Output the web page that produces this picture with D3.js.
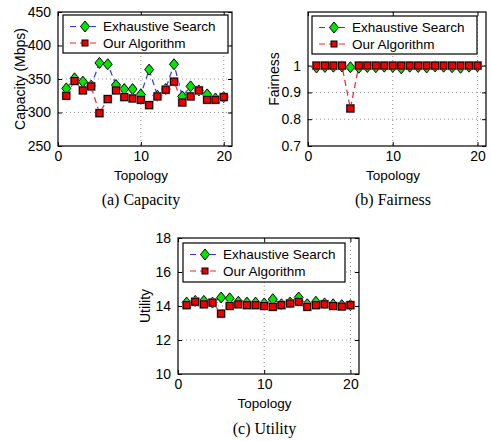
<!DOCTYPE html>
<html>
<head>
<meta charset="utf-8">
<script src="https://cdn.jsdelivr.net/npm/d3@7"></script>
<style>
body { margin: 0; background: #fff; }
svg text { font-family: "Liberation Sans", Arial, sans-serif; }
.caption { font-family: "Liberation Serif", "Times New Roman", serif; }
</style>
</head>
<body>
<svg width="491" height="441"></svg>
<script>
var topology = d3.range(1, 21);

// capacity (Mbps)
var capExhaustive = [336, 351, 346, 340, 374, 372, 341, 335, 335, 327, 364, 325, 335, 372, 324, 339, 333, 327, 321, 323];
var capOurs = [325, 347, 333, 339, 299, 320, 333, 323, 321, 319, 311, 324, 334, 346, 315, 324, 333, 319, 319, 323];

// fairness
var fairExhaustive = [0.993, 0.995, 0.996, 0.997, 0.994, 0.992, 0.995, 0.994, 0.996, 0.995, 0.99, 0.996, 0.995, 0.993, 0.997, 0.996, 0.994, 0.992, 0.996, 0.997];
var fairOurs = [1, 1, 1, 1, 0.84, 1, 1, 1, 1, 1, 1, 1, 1, 1, 1, 1, 1, 1, 1, 1];

// utility
var utilExhaustive = [14.2, 14.3, 14.3, 14.2, 14.5, 14.45, 14.25, 14.2, 14.2, 14.15, 14.4, 14.1, 14.2, 14.5, 14.1, 14.25, 14.15, 14.1, 14.05, 14.05];
var utilOurs = [14.05, 14.25, 14.1, 14.2, 13.55, 14.0, 14.1, 14.05, 14.05, 14.0, 13.95, 14.05, 14.15, 14.25, 13.95, 14.05, 14.1, 14.0, 13.97, 14.05];

var xTicks = [0, 10, 20];
var seriesNames = ["Exhaustive Search", "Our Algorithm"];

var svg = d3.select("svg");

var panels = [
    {box: [58, 12, 232, 146], yDomain: [250, 450], yTicks: [250, 300, 350, 400, 450], yFmt: d3.format("d"),
     ylabel: "Capacity (Mbps)", ylabelX: 20, caption: "(a)  Capacity", capY: 205,
     legend: [63, 15, 228, 53], a: capExhaustive, b: capOurs},
    {box: [308, 12, 486, 146], yDomain: [0.7, 1.2], yTicks: [0.7, 0.8, 0.9, 1], yFmt: function (d) { return d === 1 ? "1" : d3.format(".1f")(d); },
     ylabel: "Fairness", ylabelX: 274, caption: "(b)  Fairness", capY: 205,
     legend: [312, 16, 477, 54], a: fairExhaustive, b: fairOurs},
    {box: [178, 238, 359, 374], yDomain: [10, 18], yTicks: [10, 12, 14, 16, 18], yFmt: d3.format("d"),
     ylabel: "Utility", ylabelX: 145, caption: "(c)  Utility", capY: 434,
     legend: [183, 243, 345, 282], a: utilExhaustive, b: utilOurs}
];

function diamond(g, x, y) {
    g.append("path")
        .attr("d", "M" + x + "," + (y - 5.5) + "L" + (x + 4.5) + "," + y + "L" + x + "," + (y + 5.5) + "L" + (x - 4.5) + "," + y + "Z")
        .attr("fill", "#00e600").attr("stroke", "#000").attr("stroke-width", 1);
}
function square(g, x, y) {
    g.append("rect").attr("x", x - 4.5).attr("y", y - 4.5).attr("width", 9).attr("height", 9)
        .attr("fill", "#9a9a9a");
    g.append("rect").attr("x", x - 3.5).attr("y", y - 3.5).attr("width", 7).attr("height", 7)
        .attr("fill", "#ee0000").attr("stroke", "#000").attr("stroke-width", 1);
}

panels.forEach(function (p) {
    var x = d3.scaleLinear().domain([0, 21]).range([p.box[0], p.box[2]]);
    var y = d3.scaleLinear().domain(p.yDomain).range([p.box[3], p.box[1]]);
    var g = svg.append("g");

    // grid
    xTicks.forEach(function (t) {
        if (t === 0) return;
        g.append("line").attr("x1", x(t)).attr("x2", x(t)).attr("y1", p.box[1]).attr("y2", p.box[3])
            .attr("stroke", "#777").attr("stroke-width", 0.8).attr("stroke-dasharray", "1,3");
    });
    p.yTicks.forEach(function (t) {
        if (t === p.yDomain[0] || t === p.yDomain[1]) return;
        g.append("line").attr("x1", p.box[0]).attr("x2", p.box[2]).attr("y1", y(t)).attr("y2", y(t))
            .attr("stroke", "#777").attr("stroke-width", 0.8).attr("stroke-dasharray", "1,3");
    });

    // lines
    var line = d3.line().x(function (d, i) { return x(topology[i]); }).y(function (d) { return y(d); });
    g.append("path").datum(p.a).attr("d", line).attr("fill", "none")
        .attr("stroke", "#3333ff").attr("stroke-width", 1.2).attr("stroke-dasharray", "6,4");
    g.append("path").datum(p.b).attr("d", line).attr("fill", "none")
        .attr("stroke", "#ff2020").attr("stroke-width", 1.2).attr("stroke-dasharray", "6,4");

    // markers
    p.a.forEach(function (d, i) { diamond(g, x(topology[i]), y(d)); });
    p.b.forEach(function (d, i) { square(g, x(topology[i]), y(d)); });

    // axes (inward ticks, box)
    var xAxis = d3.axisBottom(x).tickValues(xTicks).tickSizeInner(-4).tickSizeOuter(0).tickPadding(5);
    var yAxis = d3.axisLeft(y).tickValues(p.yTicks).tickFormat(p.yFmt).tickSizeInner(-4).tickSizeOuter(0).tickPadding(7);
    var xa = g.append("g").attr("transform", "translate(0," + p.box[3] + ")").call(xAxis);
    var ya = g.append("g").attr("transform", "translate(" + p.box[0] + ",0)").call(yAxis);
    g.append("g").attr("transform", "translate(0," + p.box[1] + ")")
        .call(d3.axisTop(x).tickValues(xTicks).tickSizeInner(-4).tickSizeOuter(0).tickFormat(""));
    g.append("g").attr("transform", "translate(" + p.box[2] + ",0)")
        .call(d3.axisRight(y).tickValues(p.yTicks).tickSizeInner(-4).tickSizeOuter(0).tickFormat(""));
    g.selectAll(".domain").remove();
    g.selectAll(".tick line").attr("stroke", "#000");
    [xa, ya].forEach(function (a) {
        a.selectAll("text").attr("font-size", 14).attr("fill", "#000")
            .style("font-family", "'Liberation Sans', Arial, sans-serif");
    });
    g.append("rect").attr("x", p.box[0]).attr("y", p.box[1])
        .attr("width", p.box[2] - p.box[0]).attr("height", p.box[3] - p.box[1])
        .attr("fill", "none").attr("stroke", "#000").attr("stroke-width", 1.2);

    // labels
    var cx = (p.box[0] + p.box[2]) / 2 - 4;
    g.append("text").attr("x", cx).attr("y", p.box[3] + 34).attr("text-anchor", "middle")
        .attr("font-size", 13.5).text("Topology");
    g.append("text").attr("transform", "translate(" + p.ylabelX + "," + ((p.box[1] + p.box[3]) / 2) + ") rotate(-90)")
        .attr("text-anchor", "middle").attr("dy", "0.35em").attr("font-size", 14).text(p.ylabel);
    g.append("text").attr("class", "caption").attr("x", cx).attr("y", p.capY)
        .attr("text-anchor", "middle").attr("font-size", 16).text(p.caption);

    // legend
    var L = p.legend;
    g.append("rect").attr("x", L[0]).attr("y", L[1]).attr("width", L[2] - L[0]).attr("height", L[3] - L[1])
        .attr("fill", "#fff").attr("stroke", "#000").attr("stroke-width", 1.2);
    var rowY = [L[1] + 11.5, L[1] + 28];
    var colors = ["#3333ff", "#ff2020"];
    seriesNames.forEach(function (name, i) {
        g.append("line").attr("x1", L[0] + 7).attr("x2", L[0] + 37).attr("y1", rowY[i]).attr("y2", rowY[i])
            .attr("stroke", colors[i]).attr("stroke-width", 1.2).attr("stroke-dasharray", "6,4");
        if (i === 0) diamond(g, L[0] + 22, rowY[i]);
        else {
            g.append("rect").attr("x", L[0] + 19).attr("y", rowY[i] - 3).attr("width", 6).attr("height", 6)
                .attr("fill", "#ee0000").attr("stroke", "#000");
        }
        g.append("text").attr("x", L[0] + 40).attr("y", rowY[i]).attr("dy", "0.36em")
            .attr("font-size", 13.5).text(name);
    });
});
</script>
</body>
</html>
